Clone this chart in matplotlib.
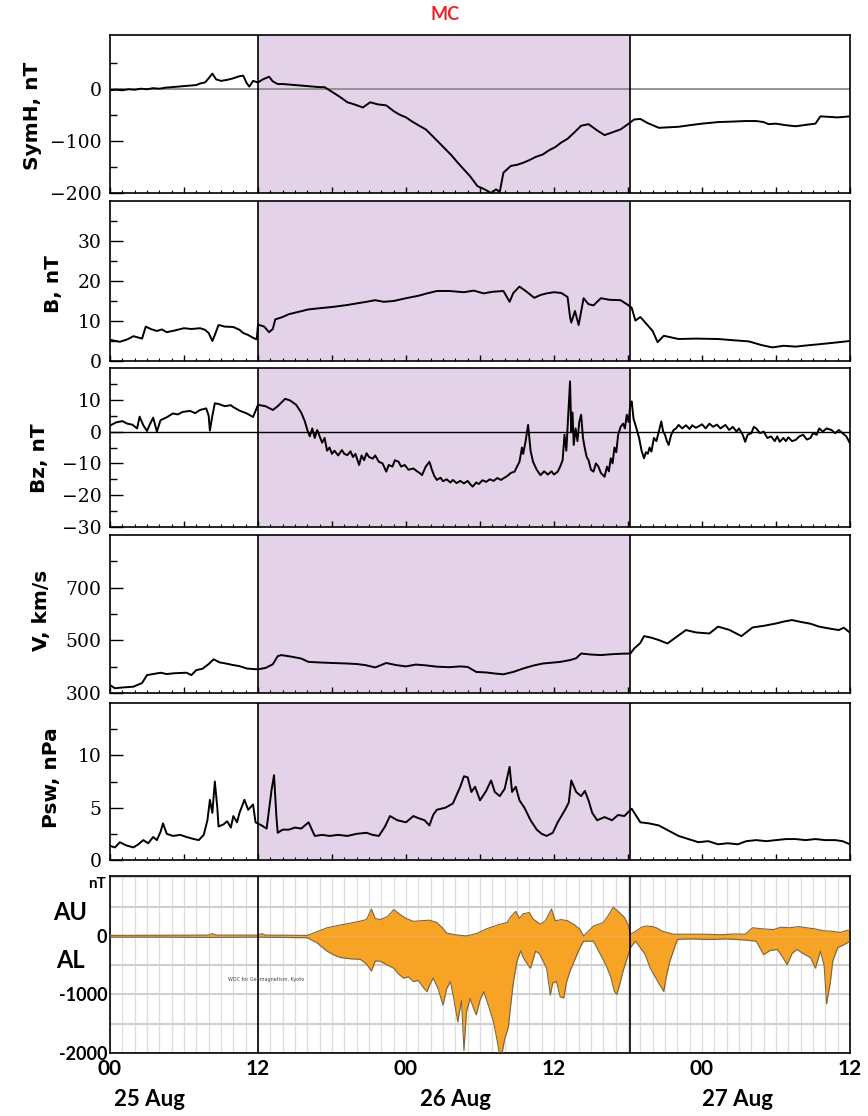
import numpy as np
import matplotlib
matplotlib.use("Agg")
import matplotlib.pyplot as plt
from matplotlib.ticker import MultipleLocator, FixedLocator

# hours since 00 UT 25 Aug
mc_start, mc_end = 12.0, 42.2

symh_t = [0, 0.5, 1, 1.5, 2, 2.5, 3, 3.5, 4, 4.5, 5, 5.5, 6, 6.5, 7, 7.3, 7.7, 8.0, 8.3, 8.6,
          9.0, 9.5, 10, 10.5, 10.8, 11.1, 11.3, 11.6, 12, 12.4, 12.9, 13.2, 13.6, 14, 14.5, 15,
          15.5, 16, 16.5, 17, 17.4, 18, 18.6, 19.25, 19.8, 20.5, 21.1, 21.7, 22.4, 23.0, 23.5,
          24.0, 24.5, 25.0, 25.6, 26.2, 26.7, 27.2, 27.7, 28.2, 28.7, 29.2, 29.8, 30.3, 30.9,
          31.3, 31.6, 31.9, 32.5, 33.0, 33.5, 34.0, 34.5, 35.1, 35.6, 36.1, 36.6, 37.1, 37.6,
          38.2, 38.8, 39.5, 40.1, 40.7, 41.4, 42.0, 42.5, 43.0, 43.6, 44.5, 45.3, 46.1, 47.0,
          48.0, 49.3, 50.5, 51.5, 52.4, 53.0, 53.4, 54.0, 54.8, 55.6, 56.5, 57.2, 57.6, 58.3,
          59.0, 60]
symh_v = [-3, -2, -3, -1, -2, 0, -1, 1, 0, 2, 3, 4, 5, 6, 7, 10, 12, 20, 29, 18,
          15, 17, 20, 24, 25, 10, 4, 15, 12, 18, 23, 14, 9, 9, 8, 7,
          6, 5, 4, 3, 3, -6, -15, -26, -30, -36, -26, -30, -32, -43, -50,
          -55, -63, -70, -78, -92, -104, -116, -128, -142, -155, -168, -187, -192, -200,
          -193, -198, -161, -148, -146, -142, -137, -131, -126, -118, -112, -103, -96, -85,
          -71, -68, -80, -89, -84, -78, -68, -59, -58, -66, -75, -74, -73, -70,
          -67, -64, -63, -62, -62, -64, -68, -67, -70, -72, -69, -67, -53, -54,
          -55, -53]

b_t = [0, 0.8, 1.4, 1.9, 2.6, 2.9, 3.3, 3.8, 4.2, 4.6, 5.2, 6.0, 6.6, 7.3, 7.7, 8.0, 8.3, 8.5,
       8.8, 9.3, 10.0, 10.5, 10.8, 11.2, 11.6, 11.9, 12.0, 12.5, 12.9, 13.2, 13.4, 14.0, 14.5,
       15.3, 16.1, 17.0, 18.0, 19.25, 20.0, 20.8, 21.5, 22.2, 23.0, 24.0, 25.0, 25.7, 26.5,
       27.5, 28.7, 29.5, 30.3, 31.0, 31.9, 32.4, 32.7, 33.2, 33.7, 34.4, 34.9, 35.4, 36.0,
       36.6, 37.1, 37.3, 37.4, 37.7, 38.0, 38.4, 38.8, 39.2, 39.8, 40.5, 41.4, 42.0, 42.3,
       42.6, 43.0, 43.6, 44.0, 44.4, 44.9, 45.5, 46.1, 47.5, 49.3, 50.5, 51.8, 52.8, 53.7,
       54.6, 55.6, 56.5, 57.2, 58.5, 60]
b_v = [5.3, 4.8, 5.4, 6.2, 5.6, 8.6, 8.0, 7.5, 7.9, 7.2, 7.6, 8.2, 8.0, 8.2, 7.8, 7.0, 5.0, 6.5,
       9.0, 8.6, 8.5, 7.8, 7.0, 6.5, 5.8, 5.4, 9.1, 8.6, 7.2, 8.0, 10.4, 11.0, 11.7,
       12.3, 12.9, 13.2, 13.5, 14.0, 14.4, 14.8, 15.2, 14.8, 15.0, 15.7, 16.3, 16.9, 17.5,
       17.5, 17.2, 17.6, 16.9, 17.3, 17.5, 14.8, 17.0, 18.6, 17.5, 15.8, 16.5, 16.9, 17.2,
       17.0, 16.0, 11.0, 9.6, 12.5, 9.0, 15.7, 14.2, 13.9, 15.7, 15.3, 15.2, 14.0, 13.3,
       10.1, 11.0, 8.9, 7.5, 4.7, 6.3, 5.9, 5.5, 5.6, 5.5, 5.2, 4.9, 4.0, 3.4,
       3.8, 3.6, 3.9, 4.1, 4.5, 5.0]

bz_t = [0, 0.5, 1.0, 1.4, 1.8, 2.2, 2.4, 2.7, 3.0, 3.2, 3.5, 3.8, 4.1, 4.6, 5.1, 5.5, 5.9, 6.5,
        6.9, 7.3, 7.8, 8.0, 8.1, 8.3, 8.5, 8.8, 9.3, 9.8, 10.0, 10.5, 11.1, 11.6, 12.0, 12.6,
        13.2, 13.6, 14.2, 14.6, 15.1, 15.5, 15.8,
        16.0, 16.2, 16.4, 16.6, 16.8, 17.0, 17.2, 17.4, 17.6, 17.8, 18.0, 18.2, 18.5, 18.8,
        19.0, 19.25, 19.5, 19.7, 19.9, 20.2, 20.4, 20.6, 20.8, 21.0, 21.3, 21.5, 21.8, 22.1,
        22.4, 22.6, 22.9, 23.1, 23.4, 23.6, 23.9, 24.2, 24.6, 24.9, 25.1, 25.3, 25.6, 25.9,
        26.1, 26.3, 26.5, 26.8, 27.0, 27.3, 27.6, 27.8, 28.1, 28.4, 28.7, 29.0, 29.2, 29.4,
        29.7, 29.9, 30.2, 30.5, 30.8, 31.1, 31.4, 31.7, 31.9, 32.2, 32.5, 32.8, 33.0, 33.2,
        33.4, 33.5, 33.7, 33.9, 34.0, 34.1, 34.3, 34.6, 34.9, 35.2, 35.5, 35.8, 36.0, 36.3,
        36.5, 36.7, 36.85, 37.0, 37.15, 37.3, 37.4, 37.5, 37.6, 37.75, 37.9, 38.05, 38.2, 38.35,
        38.5, 38.65, 38.8, 39.0, 39.2, 39.4, 39.6, 39.8, 40.1, 40.3, 40.45, 40.6, 40.75, 40.9,
        41.05, 41.2, 41.4, 41.6, 41.75, 41.9, 42.05, 42.2, 42.3, 42.45, 42.6, 42.75, 42.9, 43.1,
        43.3, 43.45, 43.6, 43.75, 43.9, 44.1, 44.3, 44.5, 44.7, 44.85, 45.0, 45.15, 45.3, 45.5,
        45.7, 45.9, 46.1, 46.4, 46.7, 47.0, 47.2, 47.5, 47.7, 48.0, 48.3, 48.6, 48.9, 49.2,
        49.5, 49.9, 50.2, 50.5, 50.8, 51.0, 51.3, 51.5, 51.7, 52.0, 52.2, 52.4, 52.7, 53.0,
        53.3, 53.6, 53.9, 54.1, 54.3, 54.6, 54.8, 55.0, 55.3, 55.6, 55.9, 56.2, 56.5, 56.8,
        57.0, 57.3, 57.5, 57.8, 58.1, 58.5, 58.8, 59.1, 59.4, 59.7, 60.0]
bz_v = [1.9, 2.9, 3.3, 2.5, 2.2, 1.0, 4.7, 2.0, 0.2, 2.0, 4.4, 0.0, 3.6, 4.5, 5.7, 5.4, 6.2, 6.5,
        5.8, 6.8, 7.3, 5.0, 0.3, 5.0, 8.9, 8.7, 8.0, 8.3, 7.7, 6.6, 5.7, 4.6, 8.4, 8.0,
        6.8, 8.0, 10.3, 9.8, 8.4, 6.0, 3.2,
        0.5, -1.5, 1.0, -2.0, 0.5, -1.5, -3.5, -2.0, -6.0, -5.0, -7.0, -6.0, -7.5, -5.8,
        -7.0, -7.4, -6.2, -8.0, -7.0, -10.5, -7.5, -9.0, -6.8, -8.0, -8.5, -7.5, -9.5, -10.0,
        -12.6, -10.5, -11.0, -9.0, -9.5, -11.0, -10.5, -12.0, -11.6, -12.5, -13.0, -13.7, -11.0, -9.5,
        -12.0, -14.0, -15.2, -14.5, -15.6, -15.0, -16.0, -15.2, -16.2, -15.5, -16.3, -15.5, -16.5, -17.3,
        -16.0, -16.5, -15.3, -15.8, -15.0, -15.5, -14.6, -15.2, -14.7, -14.0, -13.0, -12.6, -11.0, -9.5,
        -5.0, -7.0, -3.0, 2.1, -2.0, -6.0, -9.5, -12.0, -13.7, -12.5, -13.5, -12.5, -13.5, -12.6,
        -11.0, -9.0, -1.0, -6.0, 5.0, 15.8, 0.0, 6.0, -4.2, 1.0, -3.0, 3.0, 5.3, -2.0,
        -5.3, -8.0, -9.0, -12.0, -12.6, -10.0, -11.0, -13.0, -14.2, -11.0, -12.5, -8.4, -10.0, -5.0,
        -6.5, -1.0, 1.5, 2.5, 1.0, 5.3, 3.0, 9.0, 9.5, 4.0, 2.1, 0.0, -2.0, -6.0,
        -8.4, -6.5, -7.0, -5.0, -6.3, -2.0, -3.0, 0.0, 3.2, 0.0, -1.0, -3.0, -4.2, -1.0,
        0.5, 1.0, 2.1, 1.0, 2.0, 0.8, 2.0, 1.2, 1.6, 2.3, 1.0, 2.5, 1.5, 2.2,
        1.0, 2.1, 0.5, 1.5, 0.0, 1.0, -1.0, -3.2, -1.0, -0.5, 1.5, 1.0, -0.5, 0.0,
        -2.0, -1.5, -3.0, -1.5, -3.2, -2.0, -3.0, -1.8, -3.0, -2.6, -1.5, -1.0, -2.5, -2.0,
        -0.5, -1.0, 1.0, 0.0, 1.0, 0.5, -0.5, 0.5, -0.5, -1.5, -3.7]

v_t = [0, 0.4, 0.8, 1.3, 1.9, 2.6, 3.0, 3.5, 4.1, 4.6, 5.2, 5.7, 6.2, 6.6, 7.0, 7.5, 8.0, 8.4,
       8.9, 9.4, 10.0, 10.5, 11.1, 11.6, 12.0, 12.6, 13.2, 13.6, 13.9, 14.7, 15.5, 16.1, 17.0,
       18.0, 19.25, 20.0, 20.7, 21.5, 22.4, 23.2, 24.0, 24.8, 25.6, 26.5, 27.5, 28.4, 29.0,
       29.7, 30.5, 31.2, 31.9, 32.7, 33.5, 34.3, 35.1, 35.8, 36.5, 37.3, 37.8, 38.2, 39.0,
       39.8, 40.6, 41.4, 42.2, 42.5, 43.0, 43.3, 43.9, 44.5, 45.2, 45.9, 46.7, 47.5, 48.6,
       49.3, 50.2, 51.2, 52.1, 53.0, 54.0, 54.7, 55.3, 56.0, 56.8, 57.5, 58.3, 59.1, 59.5, 60]
v_v = [330, 318, 320, 322, 324, 338, 368, 372, 377, 372, 375, 376, 377, 368, 387, 392, 410, 428,
       416, 412, 406, 402, 393, 391, 390, 395, 409, 440, 444, 438, 431, 418, 416,
       414, 412, 410, 406, 397, 414, 406, 401, 408, 405, 400, 398, 401, 399,
       380, 378, 374, 371, 380, 393, 404, 412, 415, 418, 425, 432, 450, 446,
       444, 447, 449, 450, 469, 490, 516, 510, 501, 488, 512, 539, 530, 526,
       552, 540, 516, 549, 555, 564, 572, 577, 570, 563, 552, 545, 539, 548, 529]

psw_t = [0, 0.4, 0.8, 1.3, 1.9, 2.3, 2.7, 3.1, 3.5, 3.8, 4.1, 4.3, 4.6, 5.1, 5.7, 6.2, 6.8, 7.2,
         7.6, 7.9, 8.1, 8.3, 8.5, 8.7, 8.8, 9.2, 9.5, 9.8, 10.0, 10.3, 10.5, 10.9, 11.2, 11.6,
         11.8, 12.3, 12.7, 13.1, 13.3, 13.5, 13.6, 14.0, 14.5, 15.0, 15.5, 16.1, 16.6, 17.2,
         17.8, 18.5, 19.25, 20.0, 20.8, 21.3, 21.8, 22.3, 22.7, 23.3, 24.0, 24.6, 25.0, 25.5,
         25.9, 26.2, 26.5, 27.2, 27.8, 28.1, 28.4, 28.7, 29.0, 29.3, 29.6, 30.0, 30.5, 30.9,
         31.2, 31.6, 32.0, 32.4, 32.6, 32.9, 33.2, 33.6, 34.1, 34.6, 35.0, 35.4, 35.9, 36.3,
         36.9, 37.2, 37.4, 37.8, 38.2, 38.5, 38.8, 39.1, 39.5, 40.1, 40.7, 41.2, 41.7, 42.3,
         43.0, 43.7, 44.5, 45.3, 46.1, 46.9, 47.7, 48.5, 49.3, 50.1, 50.9, 51.6, 52.4, 53.2,
         54.0, 54.8, 55.6, 56.4, 57.2, 58.0, 58.8, 59.4, 60]
psw_v = [1.35, 1.2, 1.7, 1.4, 1.2, 1.5, 1.9, 1.6, 2.2, 1.9, 2.7, 3.5, 2.5, 2.3, 2.4, 2.2, 2.0, 1.9,
         2.4, 3.8, 5.75, 4.5, 7.5, 5.0, 3.2, 3.4, 3.7, 3.1, 4.2, 3.6, 4.5, 5.75, 4.8, 5.3,
         3.6, 3.3, 3.0, 6.7, 8.1, 4.0, 2.6, 2.9, 2.9, 3.1, 3.0, 3.6, 2.3, 2.4,
         2.3, 2.4, 2.3, 2.5, 2.6, 2.4, 2.3, 3.2, 4.2, 3.8, 3.6, 4.2, 4.0, 3.8,
         3.3, 4.3, 4.8, 5.0, 5.4, 6.2, 7.0, 8.0, 7.9, 6.5, 7.0, 5.7, 6.6, 7.6,
         6.5, 6.1, 6.8, 8.9, 6.5, 7.0, 5.7, 5.0, 3.8, 2.9, 2.5, 2.3, 2.6, 3.6,
         4.8, 5.5, 7.6, 6.5, 6.1, 6.6, 5.7, 4.5, 3.8, 4.1, 3.8, 4.3, 4.2, 4.9,
         3.6, 3.5, 3.3, 2.8, 2.3, 2.0, 1.7, 1.8, 1.5, 1.6, 1.5, 1.8, 1.9, 1.8,
         1.9, 2.0, 2.0, 1.9, 2.0, 1.9, 1.9, 1.8, 1.5]

au_t = [0, 8, 8.3, 8.6, 12, 12.3, 12.6, 16, 17.6, 18.5, 19.5, 20.2, 20.8, 21.2, 21.5, 21.9, 22.5,
        23.0, 23.5, 24.0, 24.6, 25.2, 25.9, 26.5, 26.9, 27.3, 28.0, 28.9, 29.7, 30.5, 31.6, 32.2,
        32.5, 32.9, 33.2, 33.5, 34.0, 34.3, 34.9, 35.3, 35.8, 36.1, 36.6, 37.1, 37.6, 38.1, 38.4,
        39.2, 40.0, 40.4, 40.8, 41.2, 41.7, 42.0, 42.2, 42.7, 43.1, 43.5, 44.0, 44.3, 44.8, 45.7,
        47.0, 48.4, 49.5, 50.6, 51.5, 52.1, 53.0, 53.8, 54.4, 55.1, 55.8, 56.5, 57.2, 57.8, 58.6,
        59.2, 60]
au_v = [10, 15, 40, 15, 15, 40, 15, 10, 140, 180, 220, 250, 280, 460, 300, 280, 330,
        450, 370, 300, 250, 260, 270, 230, 150, 50, 20, 0, 40, 120, 200, 230,
        330, 420, 300, 380, 400, 290, 200, 260, 460, 260, 280, 260, 200, 115, 0,
        170, 230, 350, 490, 420, 320, 200, 30, 90, 150, 170, 160, 140, 80, 30,
        30, 30, 20, 35, 30, 140, 120, 110, 150, 140, 160, 140, 120, 90, 80,
        60, 110]

al_t = [0, 4, 8, 12, 16, 16.8, 17.6, 18.2, 18.7, 19.5, 20.3, 20.8, 21.2, 21.5, 21.9, 22.5, 23.0,
        23.4, 23.8, 24.2, 24.6, 25.0, 25.4, 25.7, 26.0, 26.2, 26.6, 27.0, 27.3, 27.6, 27.9, 28.2,
        28.5, 28.7, 28.9, 29.2, 29.5, 29.7, 30.0, 30.3, 30.7, 31.1, 31.4, 31.6, 31.8, 32.0, 32.3,
        32.4, 32.7, 33.0, 33.3, 33.5, 34.0, 34.1, 34.5, 34.8, 35.4, 35.7, 35.9, 36.2, 36.5, 36.8,
        37.0, 37.3, 37.7, 38.1, 38.4, 39.2, 39.6, 40.2, 40.6, 40.9, 41.1, 41.3, 41.6, 41.9, 42.2,
        42.6, 43.0, 43.4, 43.8, 44.2, 44.5, 44.9, 45.1, 45.4, 46.0, 47.0, 48.7, 50.0, 51.5, 52.4,
        53.0, 53.5, 54.1, 54.5, 54.9, 55.3, 55.7, 56.2, 56.8, 57.2, 57.6, 57.9, 58.1, 58.4, 58.6,
        59.0, 59.5, 60]
al_v = [-20, -20, -25, -20, -30, -120, -260, -330, -370, -390, -400, -480, -600, -430, -430, -500, -550,
        -650, -720, -700, -780, -760, -880, -950, -800, -720, -900, -1180, -900, -780, -1100, -1470,
        -1100, -1960, -1300, -1070, -1250, -1350, -1100, -950, -1200, -1470, -1800, -2050, -1990, -1760, -1560,
        -1350, -800, -430, -250, -370, -530, -550, -260, -300, -550, -1010, -800, -780, -1040, -1060,
        -800, -600, -400, -200, -90, -90, -250, -490, -700, -950, -1000, -850, -600, -400, -200,
        -90, -200, -320, -550, -700, -810, -950, -700, -430, -60, -50, -60, -50, -70, -90,
        -320, -250, -230, -350, -490, -300, -230, -300, -370, -550, -260, -500, -1160, -800, -430,
        -200, -150, -90]

x_ticks = [0, 12, 24, 36, 48, 60]
x_ticklabels = ['00', '12', '00', '12', '00', '12']
day_labels = ['25 Aug', '26 Aug', '27 Aug']

W_PX, H_PX = 868, 1116
fig = plt.figure(figsize=(W_PX / 100, H_PX / 100), dpi=100)


def rect(top, bot, left=110, right=850):
    return [left / W_PX, 1 - bot / H_PX, (right - left) / W_PX, (bot - top) / H_PX]


def lab(v):
    s = '%g' % v
    return s.replace('-', '\u2212')


shade = '#e3d2e8'
panels = [
    # top, bottom, t, v, ylim, labelled ticks, minor ticks, ylabel, label x, label y
    (35, 193, symh_t, symh_v, (-200, 103), [-200, -100, 0], [-150, -50, 50],
     'SymH, nT', 33, 116),
    (201, 361, b_t, b_v, (0, 40), [0, 10, 20, 30], [5, 15, 25, 35], 'B, nT', 53, 284),
    (368, 527, bz_t, bz_v, (-30, 20), [-30, -20, -10, 0, 10], [-25, -15, -5, 5, 15],
     'Bz, nT', 40, 458),
    (535, 693, v_t, v_v, (300, 900), [300, 500, 700], [400, 600, 800], 'V, km/s', 41, 610),
    (703, 860, psw_t, psw_v, (0, 15), [0, 5, 10], [2.5, 7.5, 12.5], 'Psw, nPa', 52, 778),
]

for i, (top, bot, t, v, ylim, major, minor, ylab, lx, ly) in enumerate(panels):
    ax = fig.add_axes(rect(top, bot))
    ax.axvspan(mc_start, mc_end, color=shade, lw=0, zorder=0)
    if i == 0:
        ax.axhline(0, color='#8c8c8c', lw=1.3, zorder=1)
    if i == 2:
        ax.axhline(0, color='black', lw=1.0, zorder=1)
    ax.plot(t, v, color='black', lw=1.4, zorder=3)
    ax.axvline(mc_start, color='black', lw=1.2, zorder=4)
    ax.axvline(mc_end, color='black', lw=1.2, zorder=4)
    ax.set_xlim(0, 60)
    ax.set_ylim(*ylim)
    ax.set_yticks(major)
    ax.set_yticklabels([lab(m) for m in major])
    ax.yaxis.set_minor_locator(FixedLocator(minor))
    ax.xaxis.set_major_locator(MultipleLocator(6))
    ax.xaxis.set_minor_locator(MultipleLocator(1))
    ax.tick_params(axis='y', which='major', direction='in', length=9, width=1.0, pad=6,
                   labelsize=13.5, labelfontfamily='DejaVu Serif')
    ax.tick_params(axis='y', which='minor', direction='in', length=5, width=1.0)
    ax.tick_params(axis='x', which='major', direction='in', length=4, width=1.0,
                   labelbottom=False)
    ax.tick_params(axis='x', which='minor', direction='in', length=2, width=0.8)
    for s in ax.spines.values():
        s.set_linewidth(1.2)
    fig.text(lx / W_PX, 1 - ly / H_PX, ylab, rotation=90, ha='center', va='center',
             fontsize=14.5, fontweight='bold', family='DejaVu Sans')

# AU / AL panel
ax6 = fig.add_axes(rect(876, 1053))
ax6.set_xlim(0, 60)
ax6.set_ylim(-2000, 1025)
ax6.set_xticks(x_ticks)
ax6.set_xticklabels(x_ticklabels, fontfamily='Lato', fontweight='bold', fontsize=15)
ax6.xaxis.set_minor_locator(MultipleLocator(1))
ax6.set_yticks([-2000, -1000, 0])
ax6.set_yticklabels(['-2000', '-1000', '0'], fontfamily='Lato', fontweight='bold',
                    fontsize=13)
ax6.yaxis.set_minor_locator(MultipleLocator(500))
ax6.grid(which='both', axis='x', color='#dedede', lw=0.9)
ax6.grid(which='both', axis='y', color='#cfcfcf', lw=1.5)
ax6.set_axisbelow(True)
ax6.tick_params(which='both', length=0)
ax6.tick_params(axis='x', pad=4)
ax6.tick_params(axis='y', pad=2)
ax6.fill_between(au_t, 0, au_v, color='#f7a325', lw=0, zorder=2)
ax6.fill_between(al_t, al_v, 0, color='#f7a325', lw=0, zorder=2)
ax6.plot(au_t, au_v, color='#7d6440', lw=0.8, zorder=3)
ax6.plot(al_t, al_v, color='#7d6440', lw=0.8, zorder=3)
ax6.axvline(mc_start, color='black', lw=1.2, zorder=4)
ax6.axvline(mc_end, color='black', lw=1.2, zorder=4)
for s in ax6.spines.values():
    s.set_linewidth(1.2)
ax6.text(9.6, -750, 'WDC for Geomagnetism, Kyoto', fontsize=3.5, color='#444444',
         va='center', zorder=5)

fig.text(97 / W_PX, 1 - 884 / H_PX, 'nT', ha='center', va='center', fontsize=11,
         fontweight='bold', family='Lato')
fig.text(70 / W_PX, 1 - 912 / H_PX, 'AU', ha='center', va='center', fontsize=17,
         fontweight='bold', family='Lato')
fig.text(70 / W_PX, 1 - 961 / H_PX, 'AL', ha='center', va='center', fontsize=17,
         fontweight='bold', family='Lato')

for dl, px in zip(day_labels, [150, 455, 737]):
    fig.text(px / W_PX, 1 - 1100 / H_PX, dl, ha='center', va='center', fontsize=16,
             fontweight='bold', family='Lato')

fig.text(445 / W_PX, 1 - 15 / H_PX, 'MC', ha='center', va='center', fontsize=13,
         fontweight='bold', color='#e8262a', family='Lato')

fig.savefig('out.png', dpi=100)
